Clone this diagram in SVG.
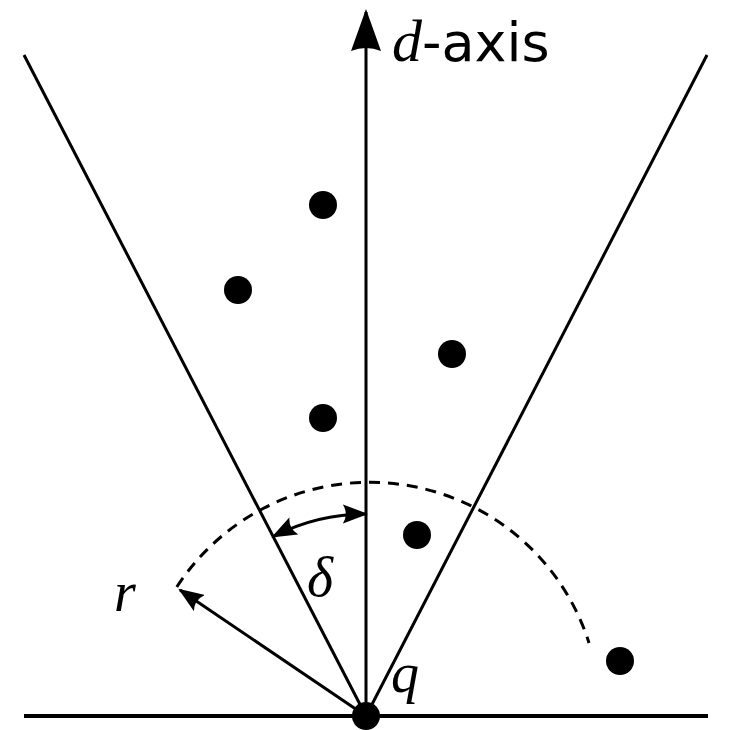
<svg xmlns="http://www.w3.org/2000/svg" width="733" height="730" viewBox="0 0 733 730">
<defs>
<marker id="ah" viewBox="0 0 12 8" refX="11" refY="4" markerWidth="8.5" markerHeight="6.5" markerUnits="strokeWidth" orient="auto-start-reverse" preserveAspectRatio="none">
<path d="M0,0 Q3,4 0,8 L12,4 Z" fill="#000"/>
</marker>
<marker id="ahBig" viewBox="0 0 14 10" refX="13" refY="5" markerWidth="14" markerHeight="10" markerUnits="strokeWidth" orient="auto">
<path d="M0,0 Q2,5 0,10 L14,5 Z" fill="#000"/>
</marker>
</defs>
<style>
.ln{stroke:#000;stroke-width:3;fill:none}
.dot{fill:#000}
.it{font-family:"Liberation Serif","DejaVu Serif",serif;font-style:italic;fill:#000}
.sf{font-family:"DejaVu Sans","Liberation Sans",sans-serif;fill:#000}
</style>
<rect width="733" height="730" fill="#fff"/>
<g id="connectors">
<line class="ln" x1="24" y1="716" x2="708" y2="716" style="stroke-width:3.8"/>
<line class="ln" x1="366" y1="716" x2="24" y2="55"/>
<line class="ln" x1="366" y1="716" x2="707" y2="55"/>
<line class="ln" x1="366" y1="716" x2="366" y2="12" marker-end="url(#ahBig)"/>
<path class="ln" d="M176.8,587 A230,230 0 0 1 589,643" stroke-dasharray="11,8"/>
<path class="ln" d="M366,514 A202,202 0 0 0 273.2,536.6" marker-start="url(#ah)" marker-end="url(#ah)"/>
<line class="ln" x1="366" y1="716" x2="180" y2="590" marker-end="url(#ah)"/>
</g>
<g id="points">
<circle class="dot" cx="323" cy="205" r="14"/>
<circle class="dot" cx="238" cy="290" r="14"/>
<circle class="dot" cx="452" cy="354" r="14"/>
<circle class="dot" cx="323" cy="418" r="14"/>
<circle class="dot" cx="417" cy="535" r="14"/>
<circle class="dot" cx="620" cy="661" r="14"/>
<circle class="dot" cx="366" cy="716" r="14"/>
</g>
<g id="labels">
<text x="392" y="61"><tspan class="it" font-size="60">d</tspan><tspan class="sf" font-size="54">-axis</tspan></text>
<text class="it" x="307" y="596" font-size="56">δ</text>
<text class="it" x="114" y="611" font-size="56">r</text>
<text class="it" x="391" y="692" font-size="56">q</text>
</g>
</svg>
